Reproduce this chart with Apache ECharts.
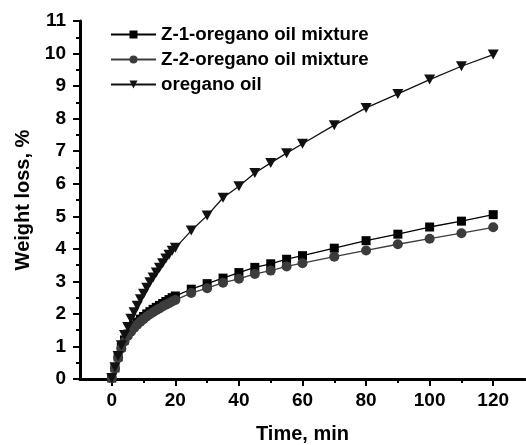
<!DOCTYPE html>
<html>
<head>
<meta charset="utf-8">
<script src="https://cdn.jsdelivr.net/npm/echarts@6/dist/echarts.min.js"></script>
<style>
  html, body { margin: 0; padding: 0; background: #fff; }
  #chart { width: 526px; height: 445px; }
</style>
</head>
<body>
<div id="chart"></div>
<script>
// sampling times (min)
const time = [0, 1, 2, 3, 4, 5, 6, 7, 8, 9, 10, 11, 12, 13, 14, 15, 16, 17, 18, 19, 20,
  25, 30, 35, 40, 45, 50, 55, 60, 70, 80, 90, 100, 110, 120];

// weight loss, %
const z1Mix = [0.03, 0.34, 0.68, 0.98, 1.2, 1.38, 1.52, 1.64, 1.75, 1.84, 1.92, 2.0, 2.07, 2.14, 2.2, 2.26, 2.32, 2.38, 2.44, 2.5, 2.55,
  2.76, 2.93, 3.1, 3.27, 3.43, 3.54, 3.68, 3.79, 4.02, 4.25, 4.45, 4.67, 4.85, 5.05];
const z2Mix = [0.02, 0.32, 0.65, 0.94, 1.15, 1.32, 1.45, 1.57, 1.67, 1.76, 1.84, 1.92, 1.99, 2.05, 2.11, 2.17, 2.23, 2.28, 2.33, 2.38, 2.43,
  2.64, 2.79, 2.96, 3.08, 3.23, 3.33, 3.46, 3.56, 3.76, 3.95, 4.14, 4.31, 4.48, 4.66];
const oreganoOil = [0.03, 0.36, 0.71, 1.04, 1.35, 1.6, 1.85, 2.05, 2.25, 2.45, 2.62, 2.8, 2.97, 3.12, 3.27, 3.42, 3.56, 3.7, 3.82, 3.94, 4.03,
  4.56, 5.02, 5.57, 5.92, 6.33, 6.64, 6.94, 7.23, 7.8, 8.33, 8.76, 9.2, 9.61, 9.97];

const seriesNames = ['Z-1-oregano oil mixture', 'Z-2-oregano oil mixture', 'oregano oil'];
const xMajorTicks = [0, 20, 40, 60, 80, 100, 120];
const xMinorTicks = [10, 30, 50, 70, 90, 110];

const font = "'Liberation Sans', Arial, sans-serif";
const pairs = (ys) => time.map((t, i) => [t, ys[i]]);

const chart = echarts.init(document.getElementById('chart'));

const option = {
  animation: false,
  backgroundColor: '#fff',
  grid: { left: 80, right: 1, top: 21, bottom: 66, containLabel: false, outerBoundsMode: 'none' },
  legend: {
    orient: 'vertical',
    left: 105,
    top: 20,
    itemWidth: 45,
    itemHeight: 10,
    itemGap: 6,
    textStyle: { fontFamily: font, fontSize: 18.7, fontWeight: 'bold', color: '#000', lineHeight: 18 },
    data: seriesNames
  },
  xAxis: [
    {
      type: 'value',
      min: -10,
      max: 130,
      name: 'Time, min',
      nameLocation: 'middle',
      nameGap: 45,
      nameTextStyle: { fontFamily: font, fontSize: 20, fontWeight: 'bold', color: '#000' },
      splitLine: { show: false },
      axisLine: { show: true, onZero: false, lineStyle: { color: '#000', width: 3 } },
      axisTick: { show: true, length: 7, customValues: xMajorTicks, lineStyle: { color: '#000', width: 2 } },
      axisLabel: { customValues: xMajorTicks, margin: 12, fontFamily: font, fontSize: 19, fontWeight: 'bold', color: '#000' }
    },
    {
      type: 'value',
      min: -10,
      max: 130,
      position: 'bottom',
      splitLine: { show: false },
      axisLine: { show: false },
      axisLabel: { show: false },
      axisTick: { show: true, length: 4, customValues: xMinorTicks, lineStyle: { color: '#000', width: 2 } }
    }
  ],
  yAxis: {
    type: 'value',
    min: 0,
    max: 11,
    interval: 1,
    name: 'Weight loss, %',
    nameLocation: 'middle',
    nameGap: 47,
    nameTextStyle: { fontFamily: font, fontSize: 20, fontWeight: 'bold', color: '#000' },
    splitLine: { show: false },
    axisLine: { show: true, onZero: false, lineStyle: { color: '#000', width: 3 } },
    axisTick: { show: true, length: 7, lineStyle: { color: '#000', width: 2 } },
    minorTick: { show: true, splitNumber: 2, length: 4, lineStyle: { color: '#000', width: 2 } },
    axisLabel: { margin: 14, fontFamily: font, fontSize: 19, fontWeight: 'bold', color: '#000' }
  },
  series: [
    {
      name: seriesNames[0],
      type: 'line',
      data: pairs(z1Mix),
      symbol: 'rect',
      symbolSize: 9,
      showAllSymbol: true,
      itemStyle: { color: '#000' },
      lineStyle: { color: '#000', width: 1.3 }
    },
    {
      name: seriesNames[1],
      type: 'line',
      data: pairs(z2Mix),
      symbol: 'circle',
      symbolSize: 10,
      showAllSymbol: true,
      itemStyle: { color: '#3c3c3c' },
      lineStyle: { color: '#3c3c3c', width: 1.3 }
    },
    {
      name: seriesNames[2],
      type: 'line',
      data: pairs(oreganoOil),
      symbol: 'path://M0,0 L10,0 L5,9 Z',
      symbolSize: [11, 10],
      showAllSymbol: true,
      itemStyle: { color: '#111' },
      lineStyle: { color: '#111', width: 1.3 }
    }
  ]
};

chart.setOption(option);
</script>
</body>
</html>
